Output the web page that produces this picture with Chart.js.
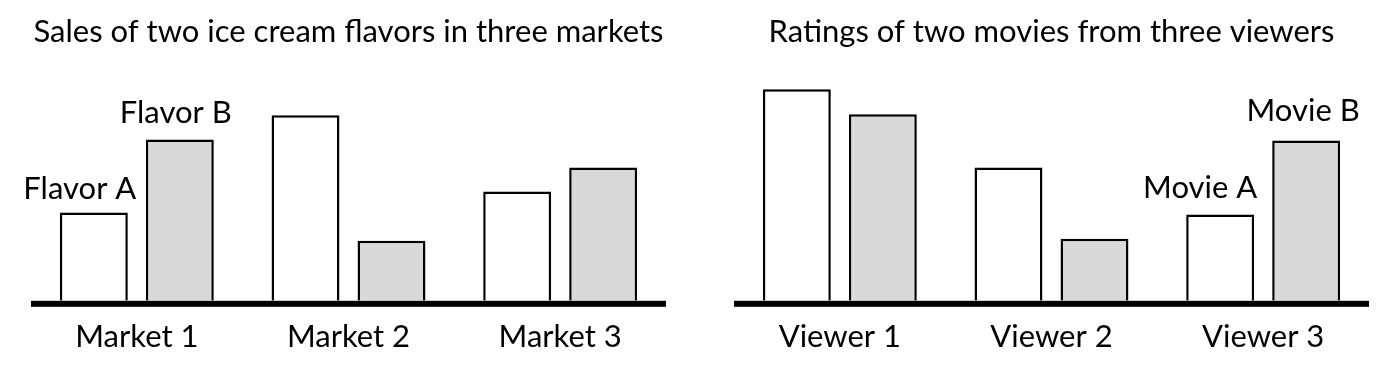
<!DOCTYPE html>
<html>
<head>
<meta charset="utf-8">
<script src="https://cdn.jsdelivr.net/npm/chart.js"></script>
<style>
  html,body{margin:0;padding:0;background:#fff;}
  #wrap{position:relative;width:1389px;height:376px;}
  .box{position:absolute;top:0;height:376px;}
  #left{left:0;width:694px;}
  #right{left:694px;width:695px;}
</style>
</head>
<body>
<div id="wrap">
  <div class="box" id="left"><canvas id="c1"></canvas></div>
  <div class="box" id="right"><canvas id="c2"></canvas></div>
</div>
<script>

// =====================
// DATA
// =====================

const markets = ["Market 1","Market 2","Market 3"];
const flavorA = [88,185,109];
const flavorB = [161,60,133];

const viewers = ["Viewer 1","Viewer 2","Viewer 3"];
const movieA = [211,133,86];
const movieB = [186,62,160];

const FONT = "Lato";
const SIZE = 31;


// =====================
// PLUGINS
// =====================

// thick black line under the bars
const baseline = {
  id:"baseline",
  afterDatasetsDraw(chart){
    const a = chart.chartArea, ctx = chart.ctx;
    ctx.save();
    ctx.fillStyle = "#000";
    ctx.fillRect(a.left, a.bottom, a.right - a.left, 6);
    ctx.restore();
  }
};

// text tags sitting above single bars
const tags = {
  id:"tags",
  afterDatasetsDraw(chart, args, opts){
    const ctx = chart.ctx;
    ctx.save();
    ctx.font = SIZE + "px " + FONT;
    ctx.fillStyle = "#000";
    ctx.textAlign = "center";
    ctx.textBaseline = "alphabetic";
    (opts.items || []).forEach(t=>{
      const bar = chart.getDatasetMeta(t.ds).data[t.idx];
      ctx.fillText(t.text, bar.x + t.dx, bar.y - t.dy);
    });
    ctx.restore();
  }
};


// =====================
// CHART
// =====================

function makeChart(id, title, labels, a, b, items, pad){
  return new Chart(document.getElementById(id), {
    type:"bar",
    data:{
      labels:labels,
      datasets:[
        {data:a, backgroundColor:"#ffffff", borderColor:"#000", borderWidth:2.5},
        {data:b, backgroundColor:"#d9d9d9", borderColor:"#000", borderWidth:2.5}
      ]
    },
    options:{
      responsive:true,
      maintainAspectRatio:false,
      animation:false,
      categoryPercentage:0.8125,
      barPercentage:0.79,
      layout:{padding:{left:pad[0], right:pad[1], top:0, bottom:10}},
      plugins:{
        legend:{display:false},
        tooltip:{enabled:false},
        title:{
          display:true,
          text:title,
          color:"#000",
          font:{family:FONT, size:SIZE, weight:"normal"},
          padding:{top:13, bottom:10}
        },
        tags:{items:items}
      },
      scales:{
        x:{
          grid:{display:false},
          border:{display:false},
          ticks:{color:"#000", padding:10, font:{family:FONT, size:SIZE}}
        },
        y:{display:false, min:0, max:240}
      }
    },
    plugins:[baseline, tags]
  });
}

makeChart("c1", "Sales of two ice cream flavors in three markets", markets, flavorA, flavorB, [
  {ds:0, idx:0, text:"Flavor A", dx:-14, dy:14},
  {ds:1, idx:0, text:"Flavor B", dx:-4, dy:16}
], [31,28]);

makeChart("c2", "Ratings of two movies from three viewers", viewers, movieA, movieB, [
  {ds:0, idx:2, text:"Movie A", dx:-20, dy:17},
  {ds:1, idx:2, text:"Movie B", dx:-3, dy:19}
], [40,20]);

</script>
</body>
</html>
